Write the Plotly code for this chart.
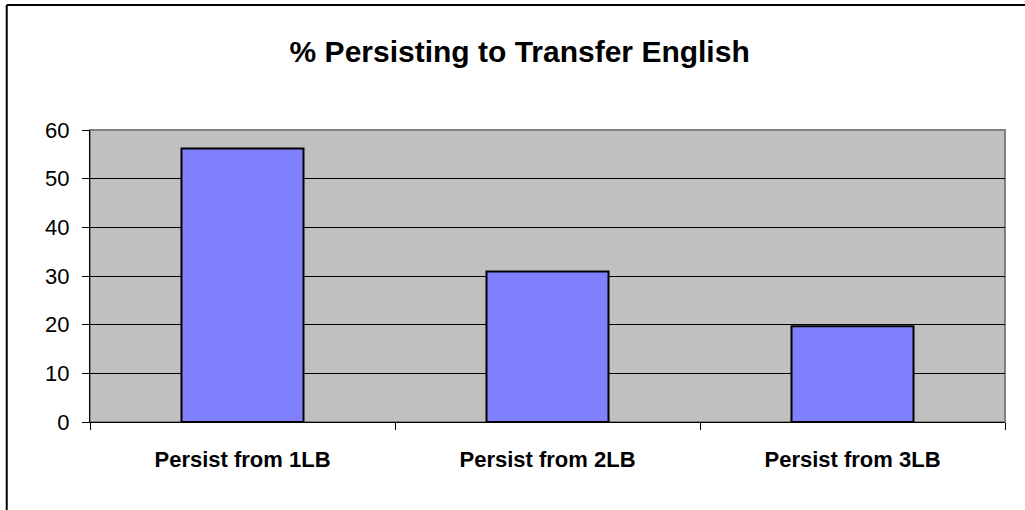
import plotly.graph_objects as go

categories = ["Persist from 1LB", "Persist from 2LB", "Persist from 3LB"]
values = [56.2, 30.9, 19.7]
y_ticks = [0, 10, 20, 30, 40, 50, 60]

fig = go.Figure()
fig.add_trace(go.Bar(
    x=categories,
    y=values,
    width=0.4,
    marker=dict(color="#8080FF", line=dict(color="black", width=2)),
))

fig.update_layout(
    width=1025,
    height=510,
    margin=dict(l=90, r=20, t=130, b=88),
    paper_bgcolor="white",
    plot_bgcolor="#C0C0C0",
    font=dict(family="Liberation Sans, Arial", size=22, color="black"),
    title=dict(
        text="<b>% Persisting to Transfer English</b>",
        x=0.507, xanchor="center", y=0.9, yanchor="middle",
        font=dict(size=30),
    ),
    showlegend=False,
    shapes=[
        # plot area frame
        dict(type="rect", xref="paper", yref="paper", x0=0, x1=1, y0=0, y1=1,
             line=dict(color="#808080", width=2), layer="below"),
        # outer chart border (only top and left visible)
        dict(type="line", xref="paper", yref="paper", x0=-0.091, x1=1.1, y0=1.428, y1=1.428,
             line=dict(color="black", width=2)),
        dict(type="line", xref="paper", yref="paper", x0=-0.091, x1=-0.091, y0=-0.5, y1=1.428,
             line=dict(color="black", width=2)),
    ],
)

fig.update_xaxes(
    tickfont=dict(size=22),
    tickprefix="<b>", ticksuffix="</b>",
    ticks="outside", tickson="boundaries", ticklen=7, tickcolor="black",
    ticklabelstandoff=18,
    showline=True, linecolor="black", linewidth=1,
    showgrid=False,
)
fig.update_yaxes(
    range=[0, 60],
    tickvals=y_ticks,
    tickfont=dict(size=22),
    ticks="outside", ticklen=7, tickcolor="black",
    ticklabelstandoff=8,
    showline=True, linecolor="black", linewidth=1,
    showgrid=True, gridcolor="black", gridwidth=1,
    zeroline=False,
)

fig.write_html(
    "out.html",
    config={"displayModeBar": False},
    post_script="document.body.style.margin='0';",
)
